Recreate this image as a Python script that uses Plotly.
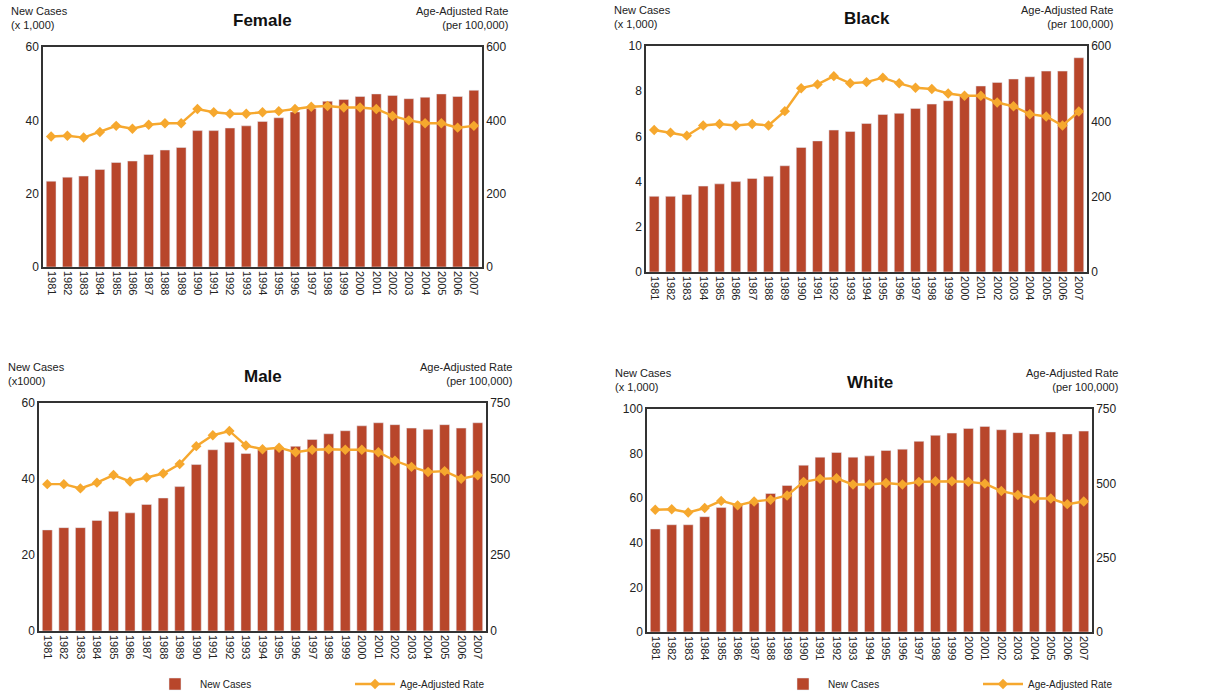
import plotly.graph_objects as go

years = [str(y) for y in range(1981, 2008)]

female_cases = [23.4, 24.5, 24.8, 26.6, 28.5, 28.9, 30.7, 31.9, 32.6, 37.2, 37.2, 37.9, 38.5, 39.7,
                40.7, 42.3, 43.2, 45.2, 45.7, 46.5, 47.2, 46.8, 45.9, 46.3, 47.2, 46.5, 48.2]
female_rate = [356, 358, 353, 368, 385, 377, 388, 392, 392, 431, 422, 418, 418, 422,
               425, 431, 437, 439, 435, 435, 431, 412, 400, 392, 392, 380, 385]

black_cases = [3.35, 3.35, 3.43, 3.80, 3.90, 4.00, 4.14, 4.24, 4.70, 5.51, 5.80, 6.28, 6.22, 6.57,
               6.97, 7.02, 7.24, 7.43, 7.58, 7.83, 8.23, 8.39, 8.54, 8.64, 8.89, 8.89, 9.48]
black_rate = [377, 370, 362, 389, 393, 389, 393, 389, 427, 488, 498, 520, 501, 504,
              516, 501, 489, 486, 474, 468, 468, 450, 440, 419, 413, 389, 426]

male_cases = [26.6, 27.2, 27.2, 29.1, 31.5, 31.1, 33.3, 35.0, 38.0, 43.8, 47.7, 49.7, 46.7, 47.6,
              48.0, 48.6, 50.4, 51.9, 52.7, 54.0, 54.8, 54.3, 53.4, 53.1, 54.3, 53.4, 54.8]
male_rate = [483, 483, 469, 488, 513, 492, 505, 518, 549, 608, 644, 658, 610, 598,
             603, 588, 596, 598, 596, 596, 588, 560, 540, 523, 526, 501, 512]

white_cases = [46.2, 48.1, 48.1, 51.7, 55.8, 57.0, 58.0, 62.1, 65.7, 74.8, 78.4, 80.5, 78.4, 79.0,
               81.4, 82.0, 85.5, 88.2, 89.2, 91.3, 92.2, 90.7, 89.4, 88.8, 89.7, 88.8, 90.1]
white_rate = [411, 413, 402, 417, 441, 426, 439, 445, 459, 505, 515, 517, 496, 496,
              501, 496, 505, 507, 507, 505, 499, 474, 461, 449, 449, 430, 439]

BAR = "#B8462B"
LINE = "#F6A82E"
FONT = "Liberation Sans, Arial, sans-serif"
W, H = 1230, 696

panels = [
    dict(title="Female", cases=female_cases, rate=female_rate, x=(43, 482), y=(47, 267),
         yr=(0, 60), yd=20, y2r=(0, 600), y2d=200, left_unit="(x 1,000)", legend=None),
    dict(title="Black", cases=black_cases, rate=black_rate, x=(646, 1087), y=(46, 272),
         yr=(0, 10), yd=2, y2r=(0, 600), y2d=200, left_unit="(x 1,000)", legend=None),
    dict(title="Male", cases=male_cases, rate=male_rate, x=(39, 486), y=(403, 631),
         yr=(0, 60), yd=20, y2r=(0, 750), y2d=250, left_unit="(x1000)", legend="legend"),
    dict(title="White", cases=white_cases, rate=white_rate, x=(647, 1092), y=(409, 632),
         yr=(0, 100), yd=20, y2r=(0, 750), y2d=250, left_unit="(x 1,000)", legend="legend2"),
]

fig = go.Figure()
layout = dict(width=W, height=H, margin=dict(l=0, r=0, t=0, b=0, autoexpand=False),
              paper_bgcolor="white", plot_bgcolor="white",
              font=dict(family=FONT, color="#222"), bargap=0.4, showlegend=True)
annotations = []

for i, p in enumerate(panels):
    xn = "x" if i == 0 else f"x{i+1}"
    y1n = f"y{2*i+1}" if i > 0 else "y"
    y2n = f"y{2*i+2}"
    xk = "xaxis" if i == 0 else f"xaxis{i+1}"
    y1k = "yaxis" if i == 0 else f"yaxis{2*i+1}"
    y2k = f"yaxis{2*i+2}"
    xd = [p["x"][0] / W, p["x"][1] / W]
    yd = [1 - p["y"][1] / H, 1 - p["y"][0] / H]
    show = p["legend"] is not None
    leg_kw = dict(legend=p["legend"]) if show else {}
    fig.add_trace(go.Bar(x=years, y=p["cases"], name="New Cases", marker_color=BAR,
                         xaxis=xn, yaxis=y1n, showlegend=show, **leg_kw))
    fig.add_trace(go.Scatter(x=years, y=p["rate"], name="Age-Adjusted Rate", mode="lines+markers",
                             line=dict(color=LINE, width=2.4),
                             marker=dict(symbol="diamond", size=8, color=LINE),
                             xaxis=xn, yaxis=y2n, showlegend=show, **leg_kw))
    layout[xk] = dict(domain=xd, anchor=y1n, type="category", range=[-0.5, 26.5],
                      tickangle=90, tickfont=dict(size=11, color="#222"),
                      showline=True, linecolor="#333", linewidth=1.5, mirror=True,
                      showgrid=False, ticks="", automargin=False)
    layout[y1k] = dict(domain=yd, anchor=xn, range=list(p["yr"]), dtick=p["yd"],
                       tickfont=dict(size=12, color="#222"), showline=True, linecolor="#333",
                       linewidth=1.5, showgrid=False, zeroline=False, ticks="", automargin=False)
    layout[y2k] = dict(domain=yd, anchor=xn, overlaying=y1n, side="right",
                       range=list(p["y2r"]), dtick=p["y2d"],
                       tickfont=dict(size=12, color="#222"), showline=True, linecolor="#333",
                       linewidth=1.5, showgrid=False, zeroline=False, ticks="", automargin=False)
    cx = (p["x"][0] + p["x"][1]) / 2 / W
    ty = p["y"][0] - 27
    annotations.append(dict(text=f"<b>{p['title']}</b>", x=cx, y=1 - ty / H, xref="paper",
                            yref="paper", showarrow=False, font=dict(size=17, color="#111"),
                            xanchor="center", yanchor="middle"))
    lx = (p["x"][0] - 34) / W
    annotations.append(dict(text="New Cases<br>" + p["left_unit"], x=max(lx, 0.005),
                            y=1 - (p["y"][0] - 14) / H, xref="paper", yref="paper",
                            showarrow=False, align="left", xanchor="left", yanchor="bottom",
                            font=dict(size=11, color="#222")))
    rx = (p["x"][1] + 28) / W
    annotations.append(dict(text="Age-Adjusted Rate<br>(per 100,000)", x=min(rx, 0.997),
                            y=1 - (p["y"][0] - 14) / H, xref="paper", yref="paper",
                            showarrow=False, align="right", xanchor="right", yanchor="bottom",
                            font=dict(size=11, color="#222")))

legend_common = dict(orientation="h", yanchor="middle", y=1 - 684 / H, xanchor="left",
                     font=dict(size=10, color="#222"), entrywidth=145, bgcolor="rgba(0,0,0,0)",
                     itemwidth=40)
layout["legend"] = dict(x=150 / W, **legend_common)
layout["legend2"] = dict(x=778 / W, **legend_common)
layout["annotations"] = annotations

fig.update_layout(**layout)
fig.write_html("out.html", config={"displayModeBar": False},
               post_script="document.body.style.margin='0';")
